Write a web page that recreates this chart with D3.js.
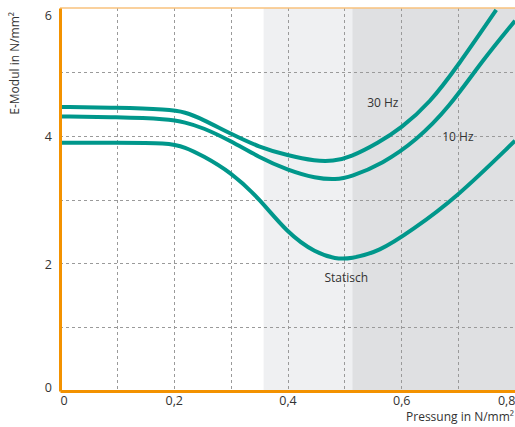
<!DOCTYPE html>
<html>
<head>
<meta charset="utf-8">
<script src="https://cdn.jsdelivr.net/npm/d3@7"></script>
<style>
  body { margin: 0; background: #fff; }
  svg text { font-family: "Open Sans", sans-serif; fill: #333; }
</style>
</head>
<body>
<svg id="chart" width="515" height="427"></svg>
<script>
// values (x = Pressung, y = E-Modul)
const hz30X = [0, 0.1, 0.19, 0.22, 0.25, 0.3, 0.35, 0.4, 0.45, 0.48, 0.51, 0.56, 0.6, 0.65, 0.7, 0.767];
const hz30Y = [4.45, 4.44, 4.41, 4.37, 4.26, 4.03, 3.82, 3.69, 3.60, 3.60, 3.66, 3.89, 4.12, 4.51, 5.10, 5.97];

const hz10X = [0, 0.1, 0.19, 0.22, 0.25, 0.3, 0.35, 0.4, 0.45, 0.485, 0.51, 0.567, 0.626, 0.684, 0.742, 0.8];
const hz10Y = [4.30, 4.29, 4.26, 4.21, 4.13, 3.92, 3.66, 3.46, 3.33, 3.31, 3.35, 3.56, 3.92, 4.44, 5.17, 5.80];

const statX = [0, 0.1, 0.19, 0.22, 0.25, 0.3, 0.35, 0.4, 0.45, 0.485, 0.51, 0.561, 0.619, 0.696, 0.8];
const statY = [3.89, 3.89, 3.89, 3.82, 3.69, 3.43, 3.02, 2.47, 2.16, 2.07, 2.07, 2.18, 2.52, 3.02, 3.92];

const curveNames = ['30 Hz', '10 Hz', 'Statisch'];
const xTickVals = [0, 0.2, 0.4, 0.6, 0.8];
const yTickVals = [0, 2, 4, 6];
const bands = [[0.358, 0.514], [0.514, 0.8]];

const svg = d3.select('#chart');
const margin = { top: 8, right: 0, bottom: 36, left: 60 };
const width = 515, height = 427;

const x = d3.scaleLinear().domain([0, 0.8]).range([margin.left, width - margin.right]);
const y = d3.scaleLinear().domain([0, 6]).range([height - margin.bottom, margin.top]);

// grey background bands
const bandColors = ['#eff0f2', '#dfe0e2'];
svg.selectAll('.band')
  .data(bands)
  .enter().append('rect')
  .attr('x', d => x(d[0]))
  .attr('y', y(6))
  .attr('width', d => x(d[1]) - x(d[0]))
  .attr('height', y(0) - y(6))
  .attr('fill', (d, i) => bandColors[i]);

// dashed grid
const grid = svg.append('g').attr('stroke', '#9a9a9a').attr('stroke-dasharray', '3,3').attr('stroke-width', 1);
grid.selectAll('.hg')
  .data(d3.range(1, 6))
  .enter().append('line')
  .attr('x1', x(0)).attr('x2', x(0.8))
  .attr('y1', d => Math.round(y(d)) + 0.5).attr('y2', d => Math.round(y(d)) + 0.5);
grid.selectAll('.vg')
  .data(d3.range(1, 8).map(d => d / 10))
  .enter().append('line')
  .attr('y1', y(6)).attr('y2', y(0))
  .attr('x1', d => Math.round(x(d)) + 0.5).attr('x2', d => Math.round(x(d)) + 0.5);

// top border
svg.append('line')
  .attr('x1', x(0)).attr('x2', x(0.8))
  .attr('y1', y(6)).attr('y2', y(6))
  .attr('stroke', '#f8c27c').attr('stroke-width', 1.5);

// curves
const line = d3.line()
  .x(d => x(d[0]))
  .y(d => y(d[1]))
  .curve(d3.curveBasis);

const series = [
  d3.zip(hz30X, hz30Y),
  d3.zip(hz10X, hz10Y),
  d3.zip(statX, statY)
];

svg.selectAll('.curve')
  .data(series)
  .enter().append('path')
  .attr('fill', 'none')
  .attr('stroke', '#00978b')
  .attr('stroke-width', 4)
  .attr('d', line);

// curve labels
const labelPos = [[0.54, 4.51], [0.672, 3.98], [0.465, 1.78]];
svg.selectAll('.clabel')
  .data(curveNames)
  .enter().append('text')
  .attr('x', (d, i) => x(labelPos[i][0]))
  .attr('y', (d, i) => y(labelPos[i][1]))
  .attr('dy', '0.35em')
  .attr('font-size', 12)
  .text(d => d);

// axes
const xAxis = svg.append('g')
  .attr('transform', `translate(0,${y(0)})`)
  .call(d3.axisBottom(x).tickValues(xTickVals).tickSize(0).tickPadding(5)
    .tickFormat(d => d === 0 ? '0' : d3.format('.1f')(d).replace('.', ',')));
xAxis.select('.domain').attr('stroke', '#f39200').attr('stroke-width', 3);
xAxis.selectAll('text').attr('font-size', 12.5).attr('fill', '#333')
  .attr('font-family', '"Open Sans", sans-serif')
  .attr('text-anchor', d => d === 0 ? 'start' : d === 0.8 ? 'end' : 'middle');

const yAxis = svg.append('g')
  .attr('transform', `translate(${x(0)},0)`)
  .call(d3.axisLeft(y).tickValues(yTickVals).tickSize(0).tickPadding(8).tickFormat(d3.format('d')));
yAxis.select('.domain').attr('stroke', '#f39200').attr('stroke-width', 3);
yAxis.selectAll('text').attr('font-size', 12.5).attr('fill', '#333')
  .attr('font-family', '"Open Sans", sans-serif')
  .attr('dy', d => d === 6 ? '0.9em' : d === 0 ? '0.05em' : '0.4em');

// axis titles
svg.append('text')
  .attr('transform', `translate(19,${margin.top + 4}) rotate(-90)`)
  .attr('text-anchor', 'end')
  .attr('font-size', 12)
  .text('E-Modul in N/mm²');

svg.append('text')
  .attr('x', width - 1)
  .attr('y', 421)
  .attr('text-anchor', 'end')
  .attr('font-size', 12)
  .text('Pressung in N/mm²');
</script>
</body>
</html>
